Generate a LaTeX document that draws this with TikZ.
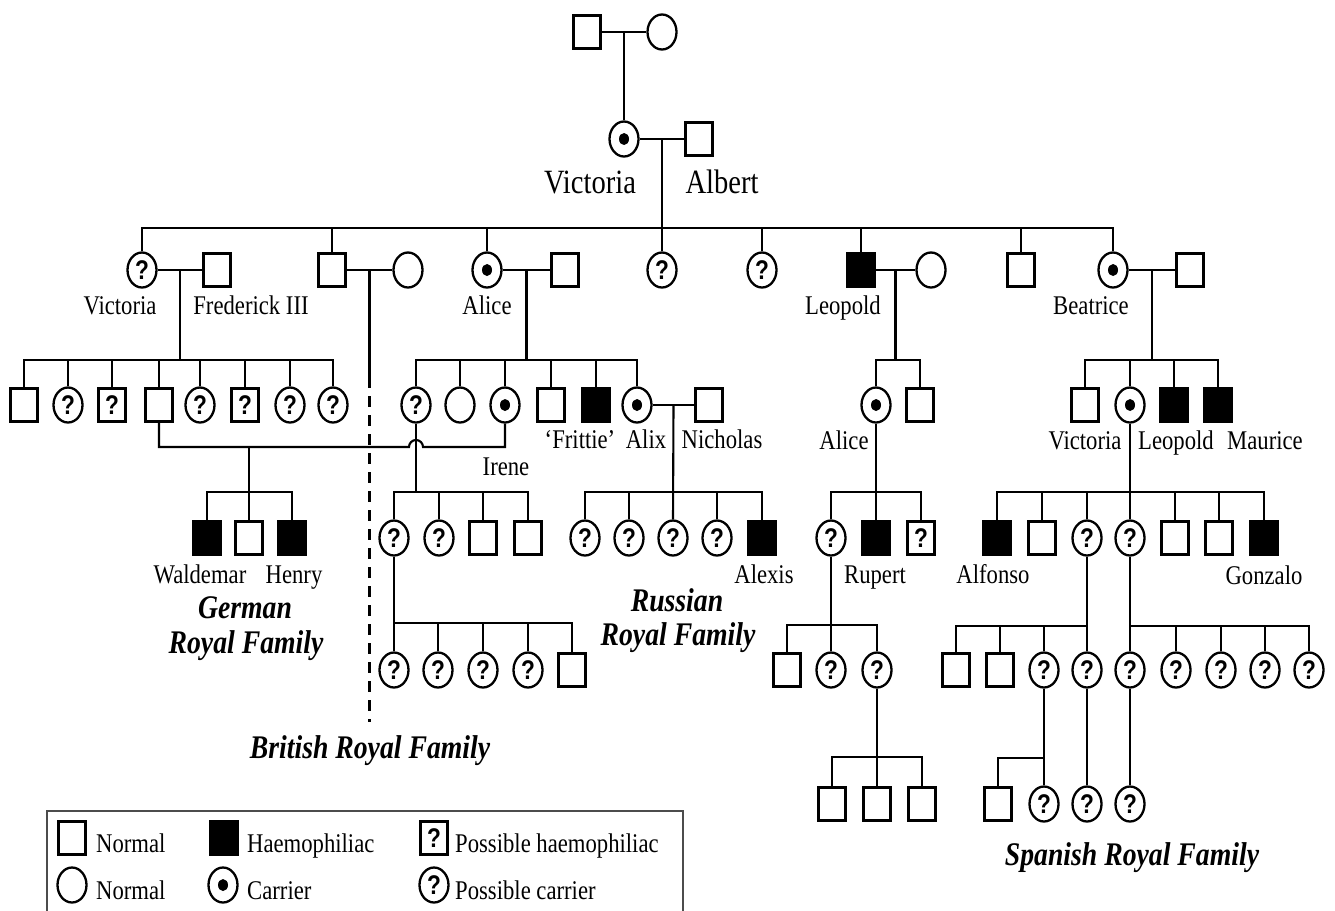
\documentclass[tikz,border=0pt]{standalone}
\usepackage{fontspec}
\setmainfont{Liberation Serif}[FakeStretch=0.84]
\newfontfamily\qmarkfont{Liberation Sans}[FakeStretch=0.84]
\usetikzlibrary{shapes.geometric,calc}
\tikzset{
  kin/.style={line width=2.1pt},
  male/.style={draw,rectangle,line width=2.3pt,minimum width=27pt,minimum height=33pt,inner sep=0pt},
  female/.style={draw,ellipse,line width=2.3pt,minimum width=29pt,minimum height=35pt,inner sep=0pt},
  haemo/.style={male,fill=black},
  carrier/.style={female,path picture={\fill (path picture bounding box.center) ellipse (5pt and 6pt);}},
  qmark/.style={label={[font=\qmarkfont\bfseries\fontsize{27}{27}\selectfont,inner sep=0pt]center:?}},
  qmale/.style={male,qmark},
  qfemale/.style={female,qmark},
  lbl/.style={inner sep=0pt,anchor=base,font=\fontsize{27}{30}\selectfont},
  bigname/.style={inner sep=0pt,anchor=base,font=\fontsize{34}{36}\selectfont},
  house/.style={inner sep=0pt,anchor=base,font=\bfseries\itshape\fontsize{33}{36}\selectfont},
}
\begin{document}
\begin{tikzpicture}[x=1pt,y=-1pt]
  \useasboundingbox (0,0) rectangle (1335,910);
  % Victoria's parents
  \node[male] (gf) at (587,32) {};
  \node[female] (gm) at (662,32) {};
  \draw[kin] (gf) -- (gm);
  \coordinate (gp) at ($(gf.east)!.5!(gm.west)$);
  % Victoria and Albert
  \node[carrier] (vic) at (624,139) {};
  \node[male] (alb) at (699,139) {};
  \draw[kin] (gp) -- (gp |- vic.north);
  \draw[kin] (vic) -- (alb);
  \coordinate (va) at ($(vic.east)!.5!(alb.west)$);
  \node[bigname] (nVic) at (590,193) {Victoria};
  \node[bigname] (nAlb) at (722,193) {Albert};

  % their children
  \node[qfemale] (vicII) at (142,270) {};
  \node[male] (fred) at (217,270) {};
  \node[male] (edw) at (332,270) {};
  \node[female] (alex) at (408,270) {};
  \node[carrier] (alice) at (487,270) {};
  \node[male] (ludw) at (565,270) {};
  \node[qfemale] (helena) at (662,270) {};
  \node[qfemale] (louise) at (762,270) {};
  \node[haemo] (leo) at (861,270) {};
  \node[female] (helen) at (931,270) {};
  \node[male] (arthur) at (1021,270) {};
  \node[carrier] (bea) at (1113,270) {};
  \node[male] (henB) at (1190,270) {};
  \coordinate (vaB) at (va |- 0,228);
  \draw[kin] (va) -- (vaB);
  \draw[kin] (vicII.north) |- (vaB) -| (bea.north);
  \foreach \c in {edw,alice,helena,louise,leo,arthur}
    \draw[kin] (\c.north) -- (\c.north |- vaB);
  \foreach \a/\b in {vicII/fred,edw/alex,alice/ludw,leo/helen,bea/henB}
    \draw[kin] (\a) -- (\b);
  \node[lbl] (nVicII) at (120,314) {Victoria};
  \node[lbl] (nFred) at (251,314) {Frederick III};
  \node[lbl] (nAlice) at (487,314) {Alice};
  \node[lbl] (nLeo) at (843,314) {Leopold};
  \node[lbl] (nBea) at (1091,314) {Beatrice};

  % British line, then the dashed border
  \coordinate (ea) at ($(edw.east)!.5!(alex.west)$);
  \coordinate (eaS) at (ea |- 0,377);
  \coordinate (eaE) at (ea |- 0,722);
  \draw[kin] (ea) -- (eaS);
  \draw[kin,dash pattern=on 11pt off 8pt] (eaS) -- (eaE);

  % Victoria and Frederick III
  \foreach \x/\s [count=\i] in {24/male,68/qfemale,112/qmale,159/male,200/qfemale,245/qmale,290/qfemale,333/qfemale}
    \node[\s] (ger\i) at (\x,405) {};
  \coordinate (vf) at ($(vicII.east)!.5!(fred.west)$);
  \coordinate (vfB) at (vf |- 0,360);
  \draw[kin] (vf) -- (vfB);
  \draw[kin] (ger1.north) |- (vfB) -| (ger8.north);
  \foreach \i in {2,...,7}
    \draw[kin] (ger\i.north) -- (ger\i.north |- vfB);

  % Alice of Hesse
  \foreach \x/\s [count=\i] in {416/qfemale,460/female,505/carrier,551/male,596/haemo,637/carrier}
    \node[\s] (hes\i) at (\x,405) {};
  \node[male] (nich) at (709,405) {};
  \coordinate (al) at ($(alice.east)!.5!(ludw.west)$);
  \coordinate (alB) at (al |- 0,360);
  \draw[kin] (al) -- (alB);
  \draw[kin] (hes1.north) |- (alB) -| (hes6.north);
  \foreach \i in {2,...,5}
    \draw[kin] (hes\i.north) -- (hes\i.north |- alB);
  \draw[kin] (hes6) -- (nich);
  \node[lbl] (nFri) at (580,448) {`Frittie'};
  \node[lbl] (nAlix) at (646,448) {Alix};
  \node[lbl] (nNich) at (722,448) {Nicholas};
  \node[lbl] (nIre) at (506,475) {Irene};

  % Leopold
  \node[carrier] (aliA) at (876,405) {};
  \node[male] (charl) at (920,405) {};
  \coordinate (lh) at ($(leo.east)!.5!(helen.west)$);
  \coordinate (lhB) at (lh |- 0,360);
  \draw[kin] (lh) -- (lhB);
  \draw[kin] (aliA.north) |- (lhB) -| (charl.north);
  \node[lbl] (nAliA) at (844,449) {Alice};

  % Beatrice
  \foreach \x/\s/\n in {1085/male/alexB,1130/carrier/ena,1174/haemo/leoB,1218/haemo/mau}
    \node[\s] (\n) at (\x,405) {};
  \coordinate (bh) at ($(bea.east)!.5!(henB.west)$);
  \coordinate (bhB) at (bh |- 0,360);
  \draw[kin] (bh) -- (bhB);
  \draw[kin] (alexB.north) |- (bhB) -| (mau.north);
  \foreach \c in {ena,leoB}
    \draw[kin] (\c.north) -- (\c.north |- bhB);
  \node[lbl] (nEna) at (1085,449) {Victoria};
  \node[lbl] (nLeoB) at (1176,449) {Leopold};
  \node[lbl] (nMau) at (1265,449) {Maurice};

  % Irene and Henry, hopping over the line below
  \coordinate (hop) at (hes1.south |- 0,447);
  \draw[kin] (ger4.south) |- ([xshift=-7pt]hop) arc[start angle=180,end angle=0,radius=7pt] -| (hes3.south);
  \node[haemo] (wal) at (207,538) {};
  \node[male] (sig) at (249,538) {};
  \node[haemo] (hnr) at (292,538) {};
  \coordinate (hi) at (sig.north |- hop);
  \coordinate (hiB) at (sig.north |- 0,492);
  \draw[kin] (hi) -- (sig.north);
  \draw[kin] (wal.north) |- (hiB) -| (hnr.north);
  \node[lbl] (nWal) at (200,583) {Waldemar};
  \node[lbl] (nHnr) at (294,583) {Henry};
  \node[house] (nGer1) at (245,618) {German};
  \node[house] (nGer2) at (246,653) {Royal Family};

  % Victoria of Hesse
  \foreach \x/\s [count=\i] in {394/qfemale,439/qfemale,483/male,528/male}
    \node[\s] (bat\i) at (\x,538) {};
  \coordinate (batB) at (hes1 |- 0,492);
  \draw[kin] (hes1.south) -- (batB);
  \draw[kin] (bat1.north) |- (batB) -| (bat4.north);
  \foreach \i in {2,3}
    \draw[kin] (bat\i.north) -- (bat\i.north |- batB);
  \foreach \x/\s [count=\i] in {394/qfemale,438/qfemale,483/qfemale,528/qfemale,572/male}
    \node[\s] (mb\i) at (\x,670) {};
  \coordinate (mbB) at (bat1 |- 0,623);
  \draw[kin] (bat1.south) -- (mb1.north);
  \draw[kin] (mbB) -| (mb5.north);
  \foreach \i in {2,3,4}
    \draw[kin] (mb\i.north) -- (mb\i.north |- mbB);
  \node[house] (nBri) at (370,758) {British Royal Family};

  % Alix and Nicholas
  \foreach \x/\s [count=\i] in {585/qfemale,629/qfemale,673/qfemale,717/qfemale,762/haemo}
    \node[\s] (rom\i) at (\x,538) {};
  \coordinate (an) at ($(hes6.east)!.5!(nich.west)$);
  \coordinate (anB) at (an |- 0,492);
  \draw[kin] (an) -- (rom3.north);
  \draw[kin] (rom1.north) |- (anB) -| (rom5.north);
  \foreach \i in {2,4}
    \draw[kin] (rom\i.north) -- (rom\i.north |- anB);
  \node[lbl] (nAlexis) at (764,583) {Alexis};
  \node[house] (nRus1) at (677,611) {Russian};
  \node[house] (nRus2) at (678,645) {Royal Family};

  % Alice of Albany
  \foreach \x/\s [count=\i] in {831/qfemale,876/haemo,921/qmale}
    \node[\s] (con\i) at (\x,538) {};
  \coordinate (aaB) at (aliA |- 0,492);
  \draw[kin] (aliA.south) -- (con2.north);
  \draw[kin] (con1.north) |- (aaB) -| (con3.north);
  \node[lbl] (nRup) at (875,583) {Rupert};
  \foreach \x/\s [count=\i] in {787/male,831/qfemale,877/qfemale}
    \node[\s] (ab\i) at (\x,670) {};
  \coordinate (abB) at (con1 |- 0,625);
  \draw[kin] (con1.south) -- (ab2.north);
  \draw[kin] (ab1.north) |- (abB) -| (ab3.north);
  \foreach \x [count=\i] in {832,877,922}
    \node[male] (kb\i) at (\x,804) {};
  \coordinate (kbB) at (ab3 |- 0,757);
  \draw[kin] (ab3.south) -- (kb2.north);
  \draw[kin] (kb1.north) |- (kbB) -| (kb3.north);

  % Victoria Eugenie
  \foreach \x/\s [count=\i] in {997/haemo,1042/male,1087/qfemale,1130/qfemale,1175/male,1219/male,1264/haemo}
    \node[\s] (spa\i) at (\x,538) {};
  \coordinate (enB) at (ena |- 0,492);
  \draw[kin] (ena.south) -- (spa4.north);
  \draw[kin] (spa1.north) |- (enB) -| (spa7.north);
  \foreach \i in {2,3,5,6}
    \draw[kin] (spa\i.north) -- (spa\i.north |- enB);
  \node[lbl] (nAlf) at (993,583) {Alfonso};
  \node[lbl] (nGon) at (1264,584) {Gonzalo};
  \foreach \x/\s [count=\i] in {956/male,1000/male,1044/qfemale,1087/qfemale}
    \node[\s] (sl\i) at (\x,670) {};
  \coordinate (slB) at (spa3 |- 0,626);
  \draw[kin] (spa3.south) -- (sl4.north);
  \draw[kin] (sl1.north) |- (slB);
  \foreach \i in {2,3}
    \draw[kin] (sl\i.north) -- (sl\i.north |- slB);
  \foreach \x [count=\i] in {1130,1176,1221,1265,1309}
    \node[qfemale] (sr\i) at (\x,670) {};
  \coordinate (srB) at (spa4 |- 0,626);
  \draw[kin] (spa4.south) -- (sr1.north);
  \draw[kin] (srB) -| (sr5.north);
  \foreach \i in {2,3,4}
    \draw[kin] (sr\i.north) -- (sr\i.north |- srB);
  \node[male] (sx1) at (998,804) {};
  \foreach \x/\i in {1044/2,1087/3,1130/4}
    \node[qfemale] (sx\i) at (\x,804) {};
  \coordinate (sxB) at (sl3 |- 0,758);
  \draw[kin] (sl3.south) -- (sx2.north);
  \draw[kin] (sx1.north) |- (sxB);
  \draw[kin] (sl4.south) -- (sx3.north);
  \draw[kin] (sr1.south) -- (sx4.north);
  \node[house] (nSpa) at (1132,865) {Spanish Royal Family};

  % key
  \coordinate (keyNW) at (47,811);
  \coordinate (keySE) at (683,940);
  \draw[line width=1.4pt,black!70] (keyNW) rectangle (keySE);
  \node[male] (k1) at (72,838) {};
  \node[haemo] (k2) at (224,838) {};
  \node[qmale] (k3) at (434,838) {};
  \node[female] (k4) at (72,885) {};
  \node[carrier] (k5) at (223,885) {};
  \node[qfemale] (k6) at (434,885) {};
  \node[lbl,anchor=base west] (t1) at (96,852) {Normal};
  \node[lbl,anchor=base west] (t2) at (247,852) {Haemophiliac};
  \node[lbl,anchor=base west] (t3) at (455,852) {Possible haemophiliac};
  \node[lbl,anchor=base west] (t4) at (96,899) {Normal};
  \node[lbl,anchor=base west] (t5) at (247,899) {Carrier};
  \node[lbl,anchor=base west] (t6) at (455,899) {Possible carrier};
\end{tikzpicture}
\end{document}
